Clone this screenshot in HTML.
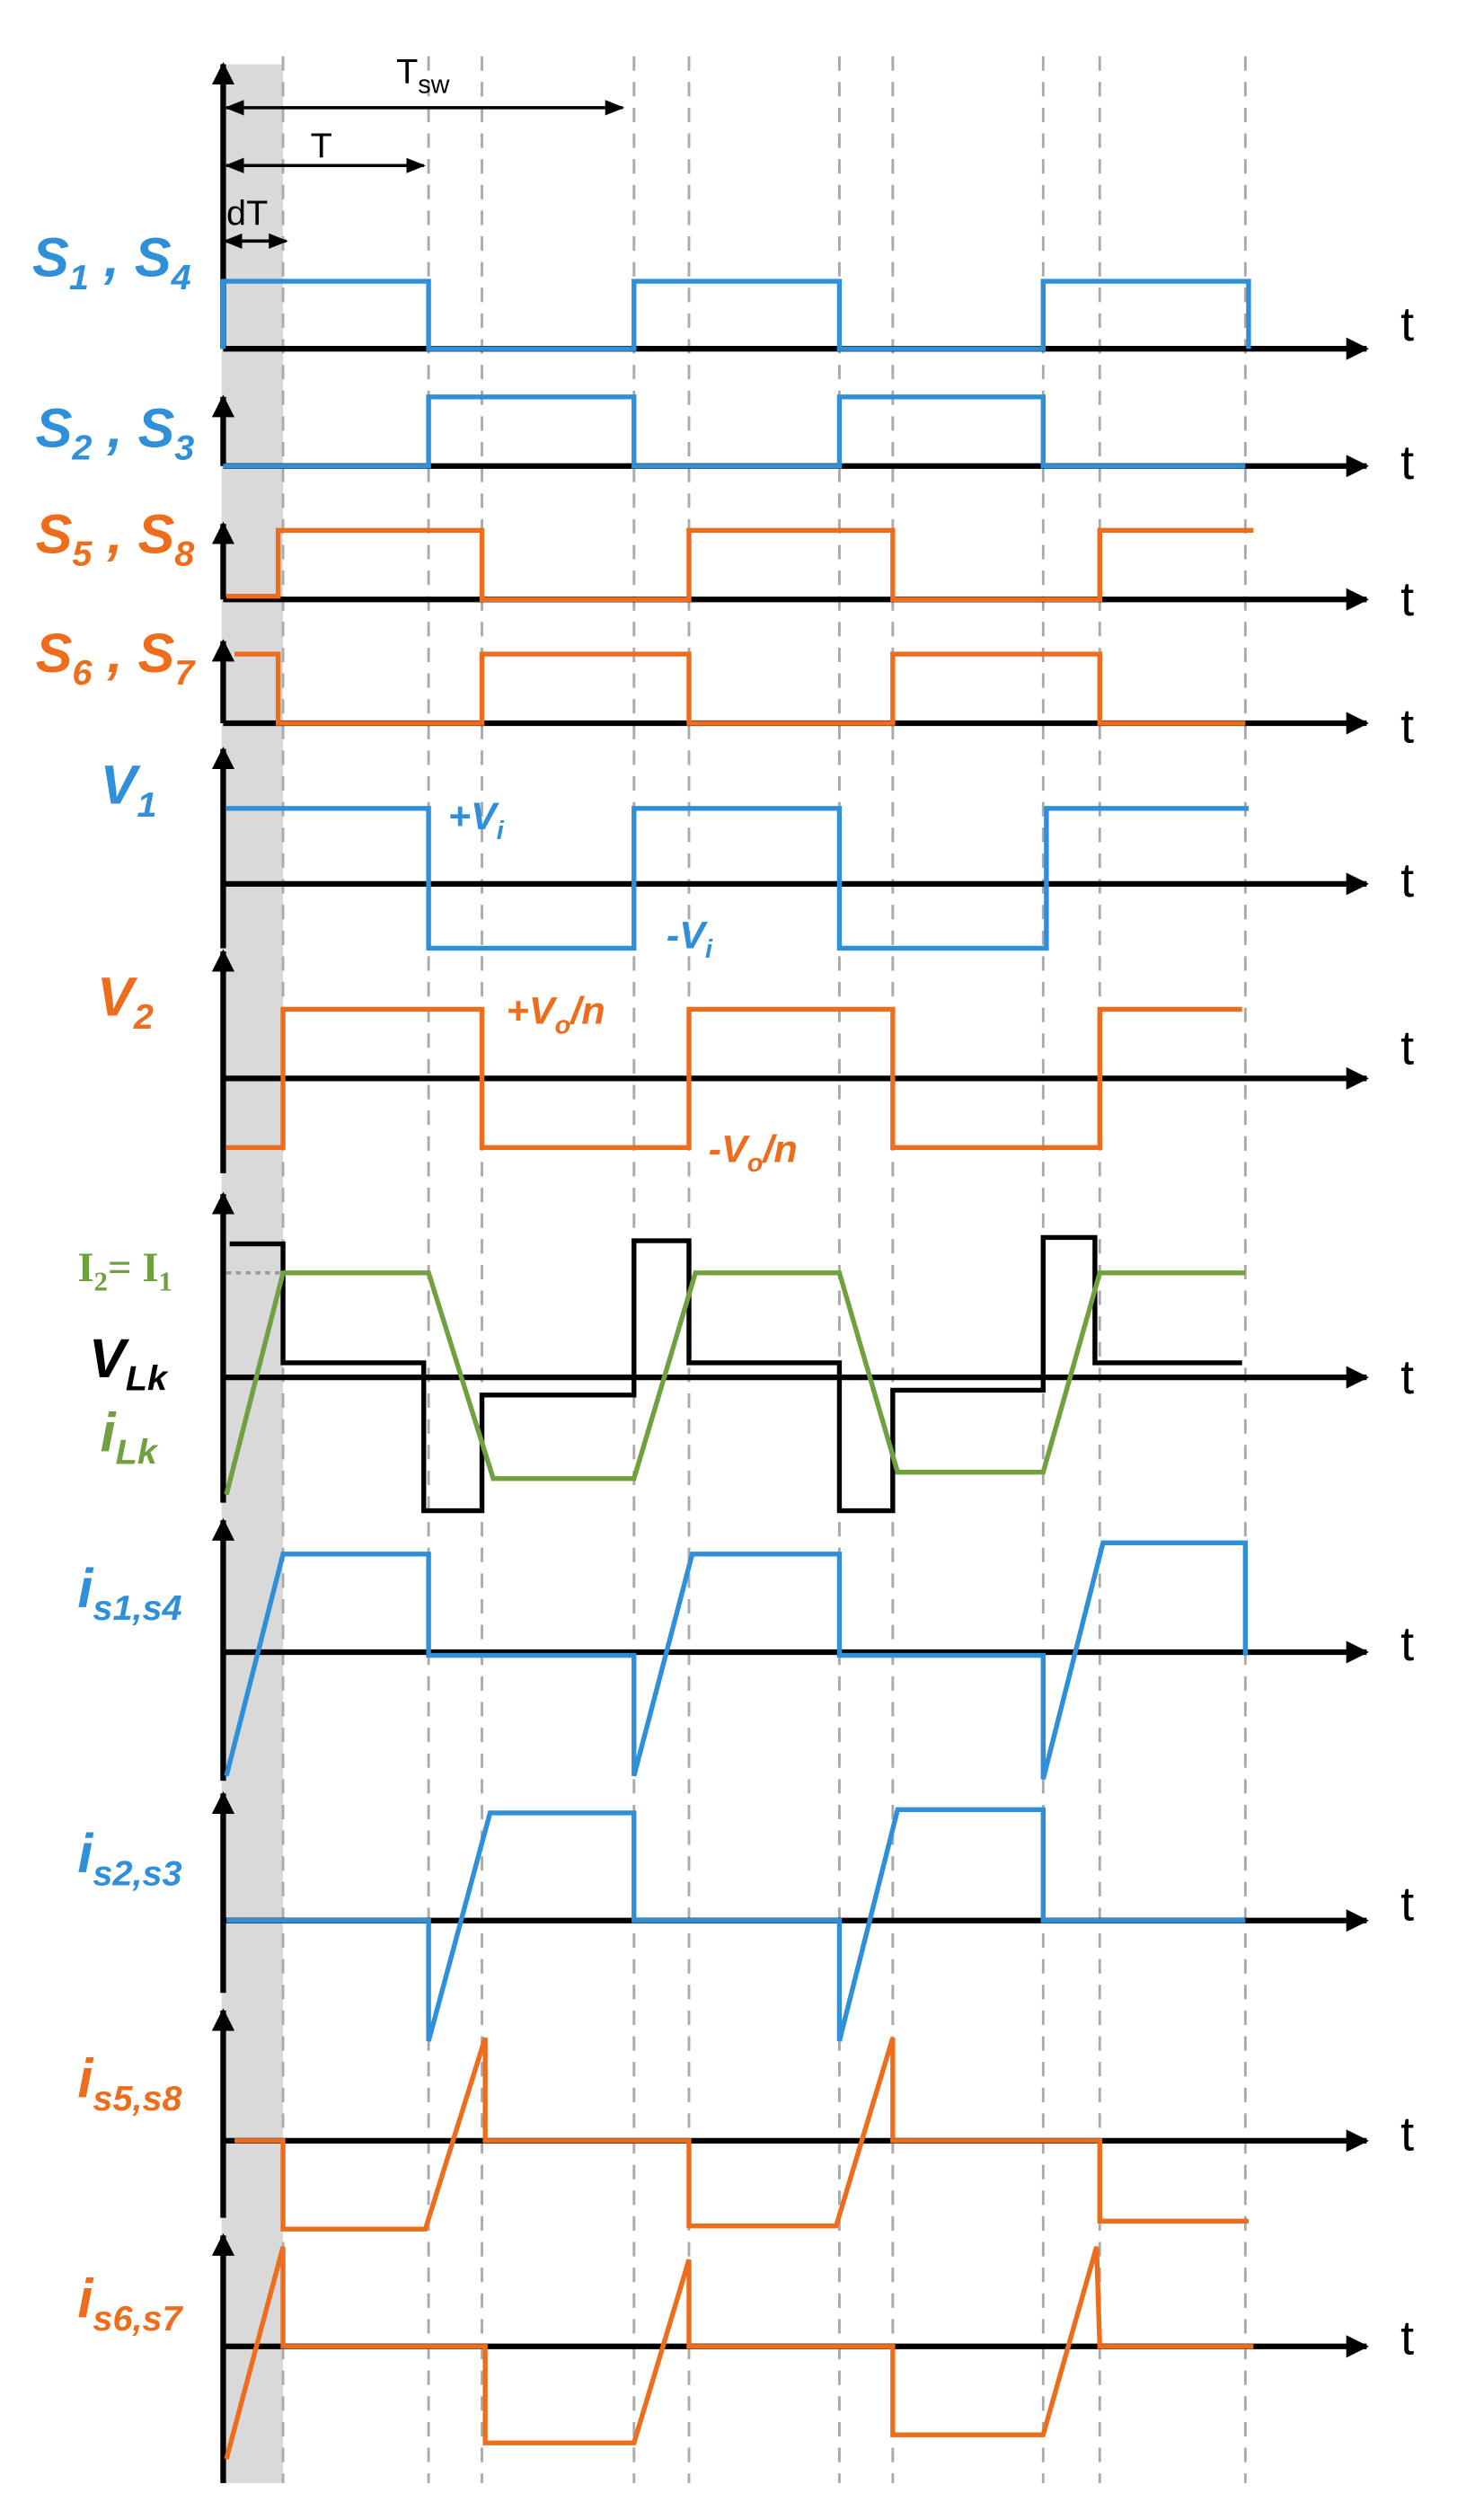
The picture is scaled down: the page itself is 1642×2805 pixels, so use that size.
<!DOCTYPE html>
<html><head><meta charset="utf-8"><style>html,body{margin:0;padding:0;background:#fff}svg{display:block}</style></head>
<body>
<svg width="1642" height="2805" viewBox="0 0 912 1568" preserveAspectRatio="none" xmlns="http://www.w3.org/2000/svg">
<defs>
<marker id="ah" viewBox="0 0 10 10" refX="9" refY="5" markerWidth="4" markerHeight="4" orient="auto-start-reverse"><path d="M0,0L10,5L0,10z" fill="#000"/></marker>
<marker id="sa" viewBox="0 0 10 10" refX="9" refY="5" markerWidth="6" markerHeight="6" orient="auto-start-reverse"><path d="M0,1L10,5L0,9z" fill="#000"/></marker>
</defs>
<rect x="137" y="40" width="38" height="1505" fill="#d9d9d9"/>
<g stroke="#aaa" stroke-width="1.6" stroke-dasharray="9,7">
<line x1="175" y1="35" x2="175" y2="1545"/><line x1="265" y1="35" x2="265" y2="1545"/><line x1="298" y1="35" x2="298" y2="1545"/><line x1="392" y1="35" x2="392" y2="1545"/><line x1="426" y1="35" x2="426" y2="1545"/><line x1="519" y1="35" x2="519" y2="1545"/><line x1="552" y1="35" x2="552" y2="1545"/><line x1="645" y1="35" x2="645" y2="1545"/><line x1="680" y1="35" x2="680" y2="1545"/><line x1="770" y1="35" x2="770" y2="1545"/>
</g>
<g stroke="#000" stroke-width="2" fill="none">
<line x1="140" y1="67" x2="385" y2="67" marker-start="url(#sa)" marker-end="url(#sa)"/>
<line x1="140" y1="103" x2="262" y2="103" marker-start="url(#sa)" marker-end="url(#sa)"/>
<line x1="139" y1="150" x2="177" y2="150" marker-start="url(#sa)" marker-end="url(#sa)"/>
</g>
<g font-family="Liberation Sans, sans-serif" font-size="22" fill="#000">
<text x="245" y="52">T<tspan font-size="16" dy="6">sw</tspan></text>
<text x="192" y="98">T</text>
<text x="140" y="140">dT</text>
</g>
<!-- axes -->
<g stroke="#000" stroke-width="3.5" fill="none">
<line x1="138" y1="217" x2="138" y2="40" marker-end="url(#ah)"/><line x1="138" y1="217" x2="845" y2="217" marker-end="url(#ah)"/>
<line x1="138" y1="290" x2="138" y2="247" marker-end="url(#ah)"/><line x1="138" y1="290" x2="845" y2="290" marker-end="url(#ah)"/>
<line x1="138" y1="373" x2="138" y2="326" marker-end="url(#ah)"/><line x1="138" y1="373" x2="845" y2="373" marker-end="url(#ah)"/>
<line x1="138" y1="450" x2="138" y2="399" marker-end="url(#ah)"/><line x1="138" y1="450" x2="845" y2="450" marker-end="url(#ah)"/>
<line x1="138" y1="590" x2="138" y2="466" marker-end="url(#ah)"/><line x1="138" y1="550" x2="845" y2="550" marker-end="url(#ah)"/>
<line x1="138" y1="730" x2="138" y2="592" marker-end="url(#ah)"/><line x1="138" y1="671" x2="845" y2="671" marker-end="url(#ah)"/>
<line x1="138" y1="935" x2="138" y2="743" marker-end="url(#ah)"/><line x1="138" y1="857" x2="845" y2="857" marker-end="url(#ah)"/>
<line x1="138" y1="1108" x2="138" y2="946" marker-end="url(#ah)"/><line x1="138" y1="1028" x2="845" y2="1028" marker-end="url(#ah)"/>
<line x1="138" y1="1240" x2="138" y2="1116" marker-end="url(#ah)"/><line x1="138" y1="1195" x2="845" y2="1195" marker-end="url(#ah)"/>
<line x1="138" y1="1380" x2="138" y2="1251" marker-end="url(#ah)"/><line x1="138" y1="1332" x2="845" y2="1332" marker-end="url(#ah)"/>
<line x1="138" y1="1545" x2="138" y2="1391" marker-end="url(#ah)"/><line x1="138" y1="1460" x2="845" y2="1460" marker-end="url(#ah)"/>
</g>
<g font-family="Liberation Sans, sans-serif" font-size="30" fill="#000">
<text x="866" y="212">t</text><text x="866" y="298">t</text><text x="866" y="383">t</text><text x="866" y="462">t</text><text x="866" y="558">t</text><text x="866" y="662">t</text><text x="866" y="867">t</text><text x="866" y="1033">t</text><text x="866" y="1195">t</text><text x="866" y="1338">t</text><text x="866" y="1465">t</text>
</g>
<!-- waveforms -->
<g fill="none" stroke-width="3" stroke-linejoin="miter">
<polyline stroke="#2f8fd8" points="138,217 138,175 265,175 265,217 392,217 392,175 519,175 519,217 645,217 645,175 772,175 772,217"/>
<polyline stroke="#2f8fd8" points="138,290 265,290 265,247 392,247 392,290 519,290 519,247 645,247 645,290 770,290"/>
<polyline stroke="#ee6d1c" points="140,371 172,371 172,330 298,330 298,373 426,373 426,330 552,330 552,373 680,373 680,330 775,330"/>
<polyline stroke="#ee6d1c" points="145,407 172,407 172,450 298,450 298,407 426,407 426,450 552,450 552,407 680,407 680,450 770,450"/>
<polyline stroke="#2f8fd8" points="140,503 265,503 265,590 392,590 392,503 519,503 519,590 647,590 647,503 772,503"/>
<polyline stroke="#ee6d1c" points="140,714 175,714 175,628 298,628 298,714 426,714 426,628 552,628 552,714 680,714 680,628 768,628"/>
<polyline stroke="#000" points="142,774 175,774 175,848 262,848 262,940 298,940 298,868 392,868 392,772 426,772 426,848 519,848 519,940 552,940 552,865 645,865 645,770 677,770 677,848 768,848"/>
<line x1="140" y1="792" x2="175" y2="792" stroke="#999" stroke-width="2" stroke-dasharray="3,3"/>
<polyline stroke="#70a040" points="140,930 175,792 265,792 305,920 392,920 430,792 519,792 555,916 645,916 680,792 770,792"/>
<polyline stroke="#2f8fd8" points="140,1105 175,967 265,967 265,1030 392,1030 392,1105 428,967 519,967 519,1030 645,1030 645,1107 682,960 770,960 770,1030"/>
<polyline stroke="#2f8fd8" points="140,1195 265,1195 265,1270 303,1128 392,1128 392,1195 519,1195 519,1270 555,1126 645,1126 645,1195 770,1195"/>
<polyline stroke="#ee6d1c" points="145,1332 175,1332 175,1387 263,1387 300,1268 300,1332 426,1332 426,1385 517,1385 552,1268 552,1332 680,1332 680,1382 772,1382"/>
<polyline stroke="#ee6d1c" points="140,1530 175,1398 175,1460 300,1460 300,1520 392,1520 426,1406 426,1460 552,1460 552,1515 645,1515 678,1398 680,1460 775,1460"/>
</g>
<!-- labels -->
<g font-family="Liberation Sans, sans-serif" font-style="italic" font-weight="bold" font-size="34">
<text x="20" y="172" fill="#2f8fd8">S<tspan font-size="22" dy="8">1</tspan><tspan dy="-8"> , S</tspan><tspan font-size="22" dy="8">4</tspan></text>
<text x="22" y="278" fill="#2f8fd8">S<tspan font-size="22" dy="8">2</tspan><tspan dy="-8"> , S</tspan><tspan font-size="22" dy="8">3</tspan></text>
<text x="22" y="344" fill="#ee6d1c">S<tspan font-size="22" dy="8">5</tspan><tspan dy="-8"> , S</tspan><tspan font-size="22" dy="8">8</tspan></text>
<text x="22" y="418" fill="#ee6d1c">S<tspan font-size="22" dy="8">6</tspan><tspan dy="-8"> , S</tspan><tspan font-size="22" dy="8">7</tspan></text>
<text x="62" y="500" fill="#2f8fd8">V<tspan font-size="22" dy="8">1</tspan></text>
<text x="60" y="632" fill="#ee6d1c">V<tspan font-size="22" dy="8">2</tspan></text>
<text x="55" y="857" fill="#000">V<tspan font-size="22" dy="8">Lk</tspan></text>
<text x="62" y="903" fill="#70a040">i<tspan font-size="22" dy="8">Lk</tspan></text>
<text x="48" y="1000" fill="#2f8fd8">i<tspan font-size="22" dy="8">s1,s4</tspan></text>
<text x="48" y="1165" fill="#2f8fd8">i<tspan font-size="22" dy="8">s2,s3</tspan></text>
<text x="48" y="1305" fill="#ee6d1c">i<tspan font-size="22" dy="8">s5,s8</tspan></text>
<text x="48" y="1442" fill="#ee6d1c">i<tspan font-size="22" dy="8">s6,s7</tspan></text>
</g>
<g font-family="Liberation Sans, sans-serif" font-style="italic" font-weight="bold" font-size="24">
<text x="277" y="516" fill="#2f8fd8">+V<tspan font-size="16" dy="6">i</tspan></text>
<text x="412" y="590" fill="#2f8fd8">-V<tspan font-size="16" dy="6">i</tspan></text>
<text x="313" y="637" fill="#ee6d1c">+V<tspan font-size="16" dy="6">o</tspan><tspan dy="-6">/n</tspan></text>
<text x="438" y="723" fill="#ee6d1c">-V<tspan font-size="16" dy="6">o</tspan><tspan dy="-6">/n</tspan></text>
</g>
<text x="48" y="797" font-family="Liberation Serif, serif" font-weight="bold" font-size="26" fill="#70a040">I<tspan font-size="17" dy="6">2</tspan><tspan dy="-6">= I</tspan><tspan font-size="17" dy="6">1</tspan></text>
</svg>
</body></html>
